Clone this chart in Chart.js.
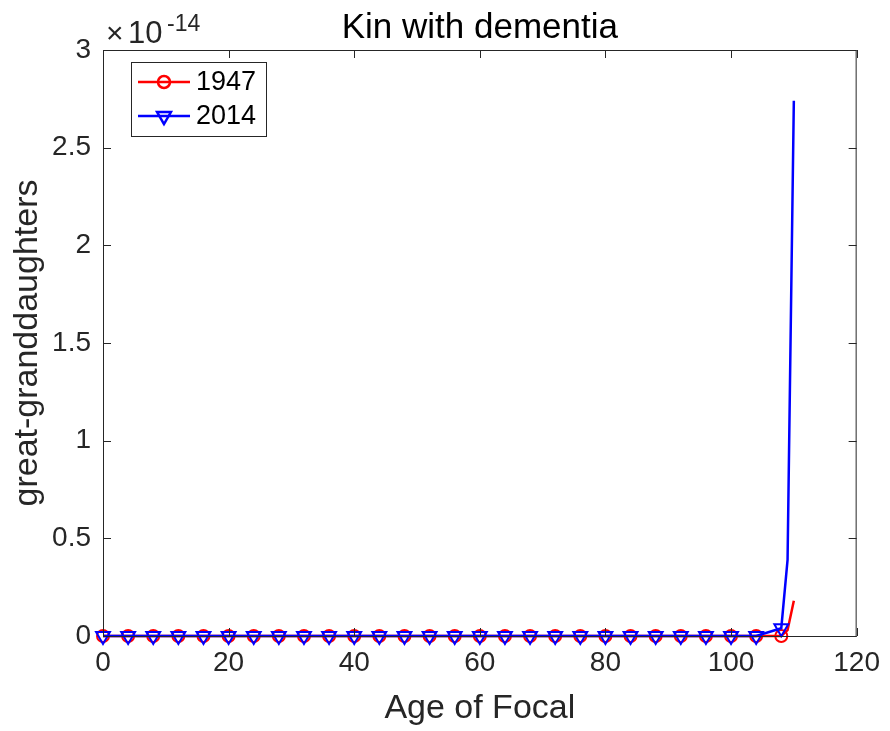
<!DOCTYPE html>
<html>
<head>
<meta charset="utf-8">
<script src="https://cdn.jsdelivr.net/npm/chart.js@4/dist/chart.umd.min.js"></script>
<style>
  html, body { margin: 0; padding: 0; background: #fff; }
  #wrap { width: 890px; height: 731px; }
</style>
</head>
<body>
<div id="wrap"><canvas id="chart" width="890" height="731"></canvas></div>
<script>
// Age of focal (markers every 4 years, last two steps yearly)
const ages = [0, 4, 8, 12, 16, 20, 24, 28, 32, 36, 40, 44, 48, 52, 56, 60, 64, 68,
  72, 76, 80, 84, 88, 92, 96, 100, 104, 108, 109, 110];
// great-granddaughters with dementia, in units of 1e-14
const kin1947 = [0, 0, 0, 0, 0, 0, 0, 0, 0, 0, 0, 0, 0, 0, 0, 0, 0, 0,
  0, 0, 0, 0, 0, 0, 0, 0, 0, 0, 0.03, 0.18];
const kin2014 = [0, 0, 0, 0, 0, 0, 0, 0, 0, 0, 0, 0, 0, 0, 0, 0, 0, 0,
  0, 0, 0, 0, 0, 0, 0, 0, 0, 0.04, 0.39, 2.74];
const seriesLabels = ['1947', '2014'];
const xTicks = [0, 20, 40, 60, 80, 100, 120];
const yTicks = [0, 0.5, 1, 1.5, 2, 2.5, 3];

const FONT = "'Liberation Sans', Arial, Helvetica, sans-serif";
const AXIS = '#262626';
const LW = 2.5;

function markerRadius(r) {
  return ctx => (ages[ctx.dataIndex] % 4 === 0 ? r : 0);
}

// box, inward ticks, titles, exponent and legend
const matlabLook = {
  id: 'matlabLook',
  afterDraw(chart) {
    const c = chart.ctx;
    const a = chart.chartArea;
    const xs = chart.scales.x, ys = chart.scales.y;
    c.save();
    c.strokeStyle = AXIS;
    c.lineWidth = 1;
    c.strokeRect(a.left + 0.5, a.top + 0.5, a.right - a.left - 1, a.bottom - a.top);
    c.beginPath();
    xTicks.forEach(v => {
      const px = Math.round(xs.getPixelForValue(v)) + 0.5;
      c.moveTo(px, a.bottom); c.lineTo(px, a.bottom - 8);
      c.moveTo(px, a.top); c.lineTo(px, a.top + 8);
    });
    yTicks.forEach(v => {
      const py = Math.round(ys.getPixelForValue(v)) + 0.5;
      c.moveTo(a.left, py); c.lineTo(a.left + 8, py);
      c.moveTo(a.right, py); c.lineTo(a.right - 8, py);
    });
    c.stroke();

    // title
    c.fillStyle = '#000';
    c.font = '35px ' + FONT;
    c.textAlign = 'center';
    c.textBaseline = 'alphabetic';
    c.fillText('Kin with dementia', (a.left + a.right) / 2, 38);

    // axis labels
    c.fillStyle = AXIS;
    c.font = '34px ' + FONT;
    c.fillText('Age of Focal', (a.left + a.right) / 2, 718);
    c.save();
    c.translate(37, (a.top + a.bottom) / 2);
    c.rotate(-Math.PI / 2);
    c.fillText('great-granddaughters', 0, 0);
    c.restore();

    // exponent
    c.textAlign = 'left';
    c.font = '30px ' + FONT;
    c.fillText('\u00d7', 106, 43);
    c.font = '31px ' + FONT;
    c.fillText('10', 128, 43);
    c.font = '23px ' + FONT;
    c.fillText('-14', 167, 31);

    // legend
    const lx = 131, ly = 62, lw = 135, lh = 74;
    c.fillStyle = '#fff';
    c.fillRect(lx, ly, lw, lh);
    c.strokeStyle = AXIS;
    c.lineWidth = 1;
    c.strokeRect(lx + 0.5, ly + 0.5, lw, lh);
    const rows = [
      { y: 82, color: '#ff0000', style: 'circle' },
      { y: 116, color: '#0000ff', style: 'triangle' }
    ];
    rows.forEach((r, i) => {
      c.strokeStyle = r.color;
      c.lineWidth = LW;
      c.beginPath();
      c.moveTo(138, r.y); c.lineTo(190, r.y);
      c.stroke();
      c.fillStyle = 'rgba(0,0,0,0)';
      Chart.helpers.drawPoint(c, {
        pointStyle: r.style,
        rotation: r.style === 'triangle' ? 180 : 0,
        radius: r.style === 'triangle' ? 8 : 6,
        borderWidth: 2
      }, 164, r.y);
      c.fillStyle = '#000';
      c.font = '27px ' + FONT;
      c.textBaseline = 'middle';
      c.fillText(seriesLabels[i], 196, r.y + 1);
    });
    c.restore();
  }
};

new Chart(document.getElementById('chart'), {
  type: 'line',
  data: {
    datasets: [
      {
        label: seriesLabels[0],
        data: ages.map((x, i) => ({ x: x, y: kin1947[i] })),
        borderColor: '#ff0000',
        backgroundColor: 'rgba(0,0,0,0)',
        borderWidth: LW,
        pointStyle: 'circle',
        pointRadius: markerRadius(6),
        pointBorderWidth: 2,
        pointBorderColor: '#ff0000',
        pointBackgroundColor: 'rgba(0,0,0,0)',
        tension: 0,
        clip: false,
        order: 2
      },
      {
        label: seriesLabels[1],
        data: ages.map((x, i) => ({ x: x, y: kin2014[i] })),
        borderColor: '#0000ff',
        backgroundColor: 'rgba(0,0,0,0)',
        borderWidth: LW,
        pointStyle: 'triangle',
        pointRotation: 180,
        pointRadius: markerRadius(8),
        pointBorderWidth: 2,
        pointBorderColor: '#0000ff',
        pointBackgroundColor: 'rgba(0,0,0,0)',
        tension: 0,
        clip: false,
        order: 1
      }
    ]
  },
  options: {
    responsive: false,
    animation: false,
    events: [],
    layout: { padding: { top: 50, right: 31, bottom: 0, left: 0 } },
    plugins: { legend: { display: false }, tooltip: { enabled: false } },
    scales: {
      x: {
        type: 'linear',
        min: 0, max: 120,
        afterFit: s => { s.height = 95; },
        afterBuildTicks: s => { s.ticks = xTicks.map(v => ({ value: v })); },
        grid: { display: false, drawTicks: false },
        border: { display: false },
        ticks: { color: AXIS, padding: 10, font: { family: FONT, size: 28 }, callback: v => String(v) }
      },
      y: {
        type: 'linear',
        min: 0, max: 3,
        afterFit: s => { s.width = 103; },
        afterBuildTicks: s => { s.ticks = yTicks.map(v => ({ value: v })); },
        grid: { display: false, drawTicks: false },
        border: { display: false },
        ticks: { color: AXIS, padding: 12, font: { family: FONT, size: 28 }, callback: v => String(v) }
      }
    }
  },
  plugins: [matlabLook]
});
</script>
</body>
</html>
